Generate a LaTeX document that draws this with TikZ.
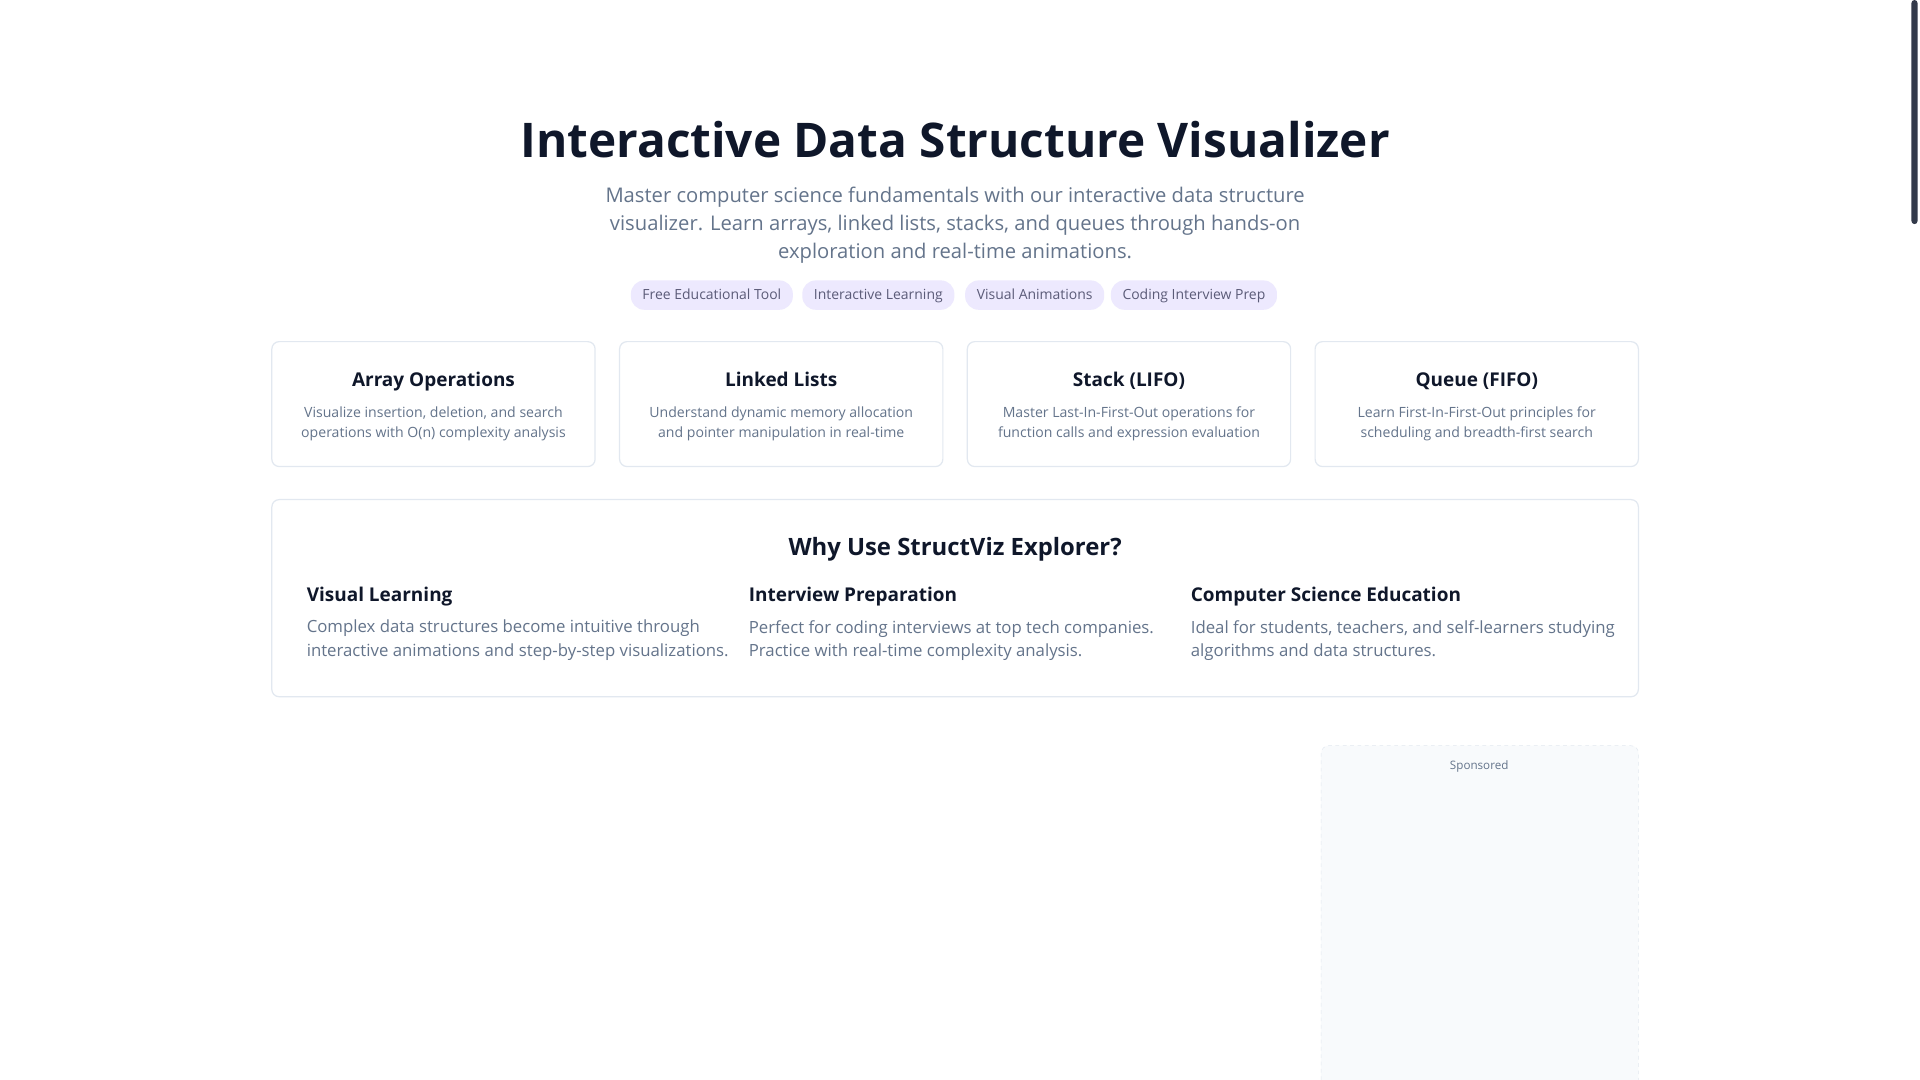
\documentclass[tikz,border=0pt]{standalone}
\usepackage{fontspec}
\setmainfont{Open Sans}
\definecolor{ink}{HTML}{0F172A}
\definecolor{sub}{HTML}{64748B}
\definecolor{pill}{HTML}{EDE9FE}
\definecolor{pilltxt}{HTML}{5B5B78}
\definecolor{bord}{HTML}{E2E8F0}
\definecolor{adbg}{HTML}{F8FAFC}
\begin{document}
\begin{tikzpicture}[x=1pt,y=-1pt,
  card/.style={draw=bord,line width=1pt,rounded corners=6pt,fill=white},
  tag/.style={fill=pill,rounded corners=11pt,minimum height=24pt,inner xsep=9.5pt,text height=1.6ex,text depth=.4ex,text=pilltxt,font=\fontsize{11.4}{14}\selectfont,anchor=west},
  ctitle/.style={font=\fontsize{15.5}{19}\selectfont\bfseries,text=ink,anchor=base},
  cdesc/.style={font=\fontsize{11.5}{16}\selectfont,text=sub,align=center},
  fhead/.style={font=\fontsize{15.5}{19}\selectfont\bfseries,text=ink,anchor=base west},
  ftext/.style={font=\fontsize{13.7}{19.5}\selectfont,text=sub,align=left,anchor=north west}]
\useasboundingbox[fill=white] (0,0) rectangle (1568,882);
\fill[ink!85,rounded corners=2.5pt] (1561,0) rectangle (1566,183);
\node[font=\fontsize{39}{48}\selectfont\bfseries,text=ink,anchor=base] (title) at (780,129) {Interactive Data Structure Visualizer};
\node[font=\fontsize{16.5}{23}\selectfont,text=sub,align=center] (subt) at (780,184) {Master computer science fundamentals with our interactive data structure\\visualizer. Learn arrays, linked lists, stacks, and queues through hands-on\\exploration and real-time animations.};
\node[tag] (t1) at (515,241) {Free Educational Tool};
\node[tag] (t2) at (655,241) {Interactive Learning};
\node[tag] (t3) at (788,241) {Visual Animations};
\node[tag] (t4) at (907,241) {Coding Interview Prep};
\foreach \x/\t/\a/\b [count=\i] in {
 222/Array Operations/{Visualize insertion, deletion, and search}/{operations with O(n) complexity analysis},
 506/Linked Lists/{Understand dynamic memory allocation}/{and pointer manipulation in real-time},
 790/Stack (LIFO)/{Master Last-In-First-Out operations for}/{function calls and expression evaluation},
 1074/Queue (FIFO)/{Learn First-In-First-Out principles for}/{scheduling and breadth-first search}}{
  \draw[card] (\x,279) rectangle ++(264,102);
  \node[ctitle] (ct\i) at (\x+132,316) {\t};
  \node[cdesc] (cd\i) at (\x+132,346) {\a\\\b};
}
\draw[card] (222,408) rectangle (1338,569);
\node[font=\fontsize{19.5}{24}\selectfont\bfseries,text=ink,anchor=base] (why) at (780,454) {Why Use StructViz Explorer?};
\node[fhead] (h1) at (247,491) {Visual Learning};
\node[ftext] (p1) at (247,503) {Complex data structures become intuitive through\\interactive animations and step-by-step visualizations.};
\node[fhead] (h2) at (608,491) {Interview Preparation};
\node[ftext] (p2) at (608,503) {Perfect for coding interviews at top tech companies.\\Practice with real-time complexity analysis.};
\node[fhead] (h3) at (969,491) {Computer Science Education};
\node[ftext] (p3) at (969,503) {Ideal for students, teachers, and self-learners studying\\algorithms and data structures.};
\draw[draw=bord,dashed,fill=adbg,rounded corners=6pt] (1079,900) -- (1079,609) -- (1338,609) -- (1338,900);
\node[font=\fontsize{9.5}{11}\selectfont,text=sub] (sp) at (1208,626) {Sponsored};
\end{tikzpicture}
\end{document}
